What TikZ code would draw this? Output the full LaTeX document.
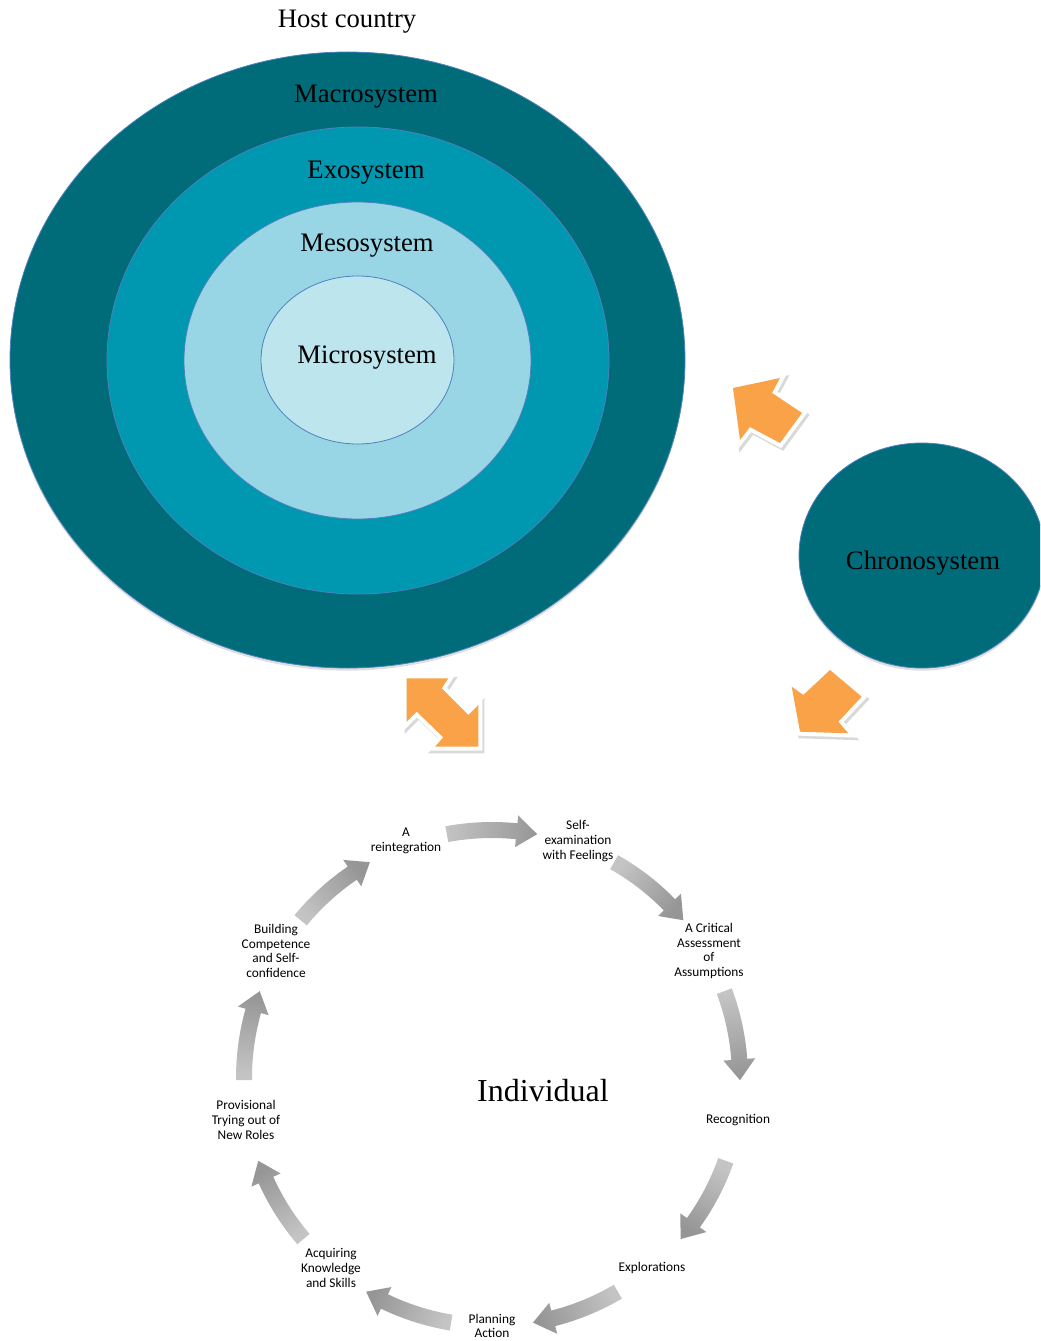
\documentclass[tikz,border=0pt]{standalone}
\usepackage{fontspec}
\setmainfont{Liberation Serif}
\newfontfamily\calfont{Carlito}
\usetikzlibrary{shadows,shapes.geometric}
\definecolor{macroc}{RGB}{0,108,122}
\definecolor{exoc}{RGB}{0,151,176}
\definecolor{mesoc}{RGB}{152,214,230}
\definecolor{microc}{RGB}{188,229,237}
\definecolor{rimc}{RGB}{79,129,189}
\definecolor{orangec}{RGB}{250,162,72}
\definecolor{cyclight}{RGB}{196,196,196}
\definecolor{cycdark}{RGB}{150,150,150}
\tikzset{
  sysellipse/.style={ellipse, draw=rimc, line width=0.6pt, inner sep=0pt},
  softshadow/.style={drop shadow={shadow xshift=0pt, shadow yshift=-2pt, opacity=0.25}},
  syslabel/.style={font=\fontsize{20}{24}\selectfont, text=black, inner sep=0pt},
  blockarrow/.style={fill=orangec, line join=miter,
     preaction={draw=black, fill=black, opacity=0.15, line width=6pt, line join=miter,
                transform canvas={shift={(1.5pt,-2pt)}}},
     preaction={draw=white, fill=white, line width=6pt, line join=miter}},
  cyclabel/.style={font=\calfont\fontsize{10}{11}\selectfont, align=center, inner sep=0pt},
}
\newcommand\cycarr[2]{%
  \pgfmathsetmacro\hb{#2+4.8}%
  \pgfmathsetmacro\shang{(#1+#2)/2-180}%
  \shade[top color=cycdark, bottom color=cyclight, shading angle=\shang]
    plot[domain=#1:\hb,samples=14] ({492+256*cos(\x)},{1078-256*sin(\x)})
    -- ({492+264*cos(\hb)},{1078-264*sin(\hb)})
    -- ({492+248*cos(#2)},{1078-248*sin(#2)})
    -- ({492+232*cos(\hb)},{1078-232*sin(\hb)})
    -- plot[domain=\hb:#1,samples=14] ({492+240*cos(\x)},{1078-240*sin(\x)}) -- cycle;%
}
\begin{document}
\begin{tikzpicture}[x=0.75pt,y=-0.75pt]
\useasboundingbox (0,0) rectangle (1040,1341);
\clip (0,0) rectangle (1040,1341);

% nested systems
\node[sysellipse, softshadow, fill=macroc, minimum width=506.25pt, minimum height=462pt] (macro) at (347.5,360) {};
\node[sysellipse, fill=exoc, minimum width=376.5pt, minimum height=350.25pt] (exo) at (358,360.5) {};
\node[sysellipse, fill=mesoc, minimum width=260.25pt, minimum height=237.75pt] (meso) at (357.5,360.5) {};
\node[sysellipse, fill=microc, minimum width=144.75pt, minimum height=126pt] (micro) at (357.5,360) {};
\node[sysellipse, softshadow, fill=macroc, minimum width=184.5pt, minimum height=168.75pt] (chrono) at (922,555.5) {};

\node[syslabel] (host) at (347,22) {Host country};
\node[syslabel] (macrol) at (366,97) {Macrosystem};
\node[syslabel] (exol) at (366,173) {Exosystem};
\node[syslabel] (mesol) at (367,246) {Mesosystem};
\node[syslabel] (microl) at (367,358) {Microsystem};
\node[syslabel] (chronol) at (923,563) {Chronosystem};

% orange block arrows
\path[blockarrow] (733,388) -- (780,378) -- (772,393) -- (802,413) -- (780,443) -- (750,427) -- (740,440) -- cycle;
\path[blockarrow] (406.7,678.3) -- (448.3,678.3) -- (441.7,688.3) -- (468.3,715) -- (478.3,705) -- (478.3,746.7) -- (435,746.7) -- (443.3,737.3) -- (416.7,711.7) -- (406.7,721.7) -- cycle;
\path[blockarrow] (791.7,686.7) -- (803.3,695) -- (830,670) -- (861.7,696.7) -- (838.3,721.7) -- (848.3,733.3) -- (800,731.7) -- cycle;

% cycle arrows
\cycarr{100.5}{79.5}
\cycarr{60.5}{39.5}
\cycarr{20.5}{-0.5}
\cycarr{-19.5}{-40.5}
\cycarr{-59.5}{-80.5}
\cycarr{-99.5}{-120.5}
\cycarr{-139.5}{-160.5}
\cycarr{180.5}{159.5}
\cycarr{140.5}{119.5}

% cycle labels
\node[cyclabel] (reint) at (406,841) {A\\reintegration};
\node[cyclabel] (selfex) at (578,841) {Self-\\examination\\with Feelings};
\node[cyclabel] (critical) at (709,951) {A Critical\\Assessment\\of\\Assumptions};
\node[cyclabel] (recog) at (738,1120) {Recognition};
\node[cyclabel] (explor) at (652,1268) {Explorations};
\node[cyclabel] (planning) at (492,1326) {Planning\\Action};
\node[cyclabel] (acquiring) at (331,1268) {Acquiring\\Knowledge\\and Skills};
\node[cyclabel] (provisional) at (246,1120) {Provisional\\Trying out of\\New Roles};
\node[cyclabel] (building) at (276,951) {Building\\Competence\\and Self-\\confidence};
\node[font=\fontsize{24}{28}\selectfont, inner sep=0pt] (indiv) at (543,1091) {Individual};
\end{tikzpicture}
\end{document}
